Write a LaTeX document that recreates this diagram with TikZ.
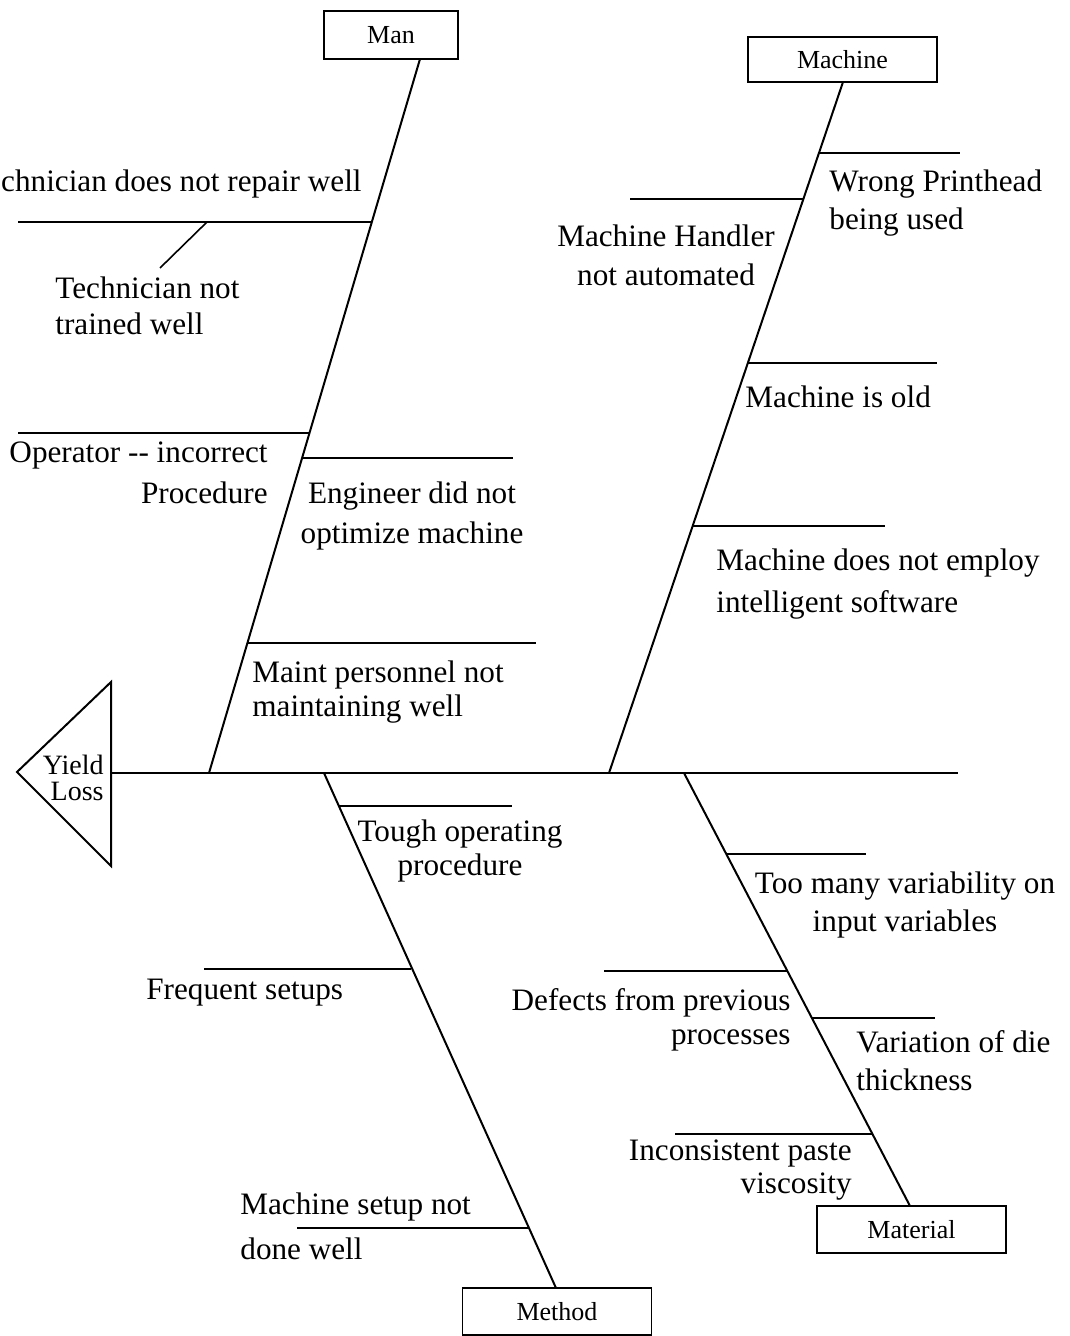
\documentclass[tikz,border=0pt]{standalone}
\usepackage{fontspec}
\setmainfont{Liberation Serif}
\usetikzlibrary{positioning}

\begin{document}
\begin{tikzpicture}[x=0.5pt,y=-0.5pt,
  bone/.style={line width=1pt},
  twig/.style={line width=0.8pt},
  cause/.style={font=\fontsize{15.6}{#1}\selectfont, inner sep=0pt},
  cause/.default=19pt,
  cat/.style={draw, line width=0.9pt, inner sep=0pt, minimum width=94.5pt, minimum height=23.5pt, font=\fontsize{13}{15}\selectfont}]
\useasboundingbox (0,0) rectangle (1069,1336);

% head of the fish
\coordinate (tip) at (17,772);
\coordinate (htop) at (111,682);
\coordinate (hbot) at (111,866);
\draw[bone] (tip) -- (htop) -- (hbot) -- cycle;
\node[inner sep=0pt, font=\fontsize{14}{13}\selectfont, align=right, anchor=base east] (yield) at (104,800) {Yield\\Loss};

% spine
\coordinate (spine0) at (111,773);
\coordinate (spine1) at (958,773);
\draw[bone] (spine0) -- (spine1);

% category boxes
\node[cat, minimum width=67pt, minimum height=24pt] (man) at (391,35) {Man};
\node[cat, minimum height=22.5pt] (machine) at (842.5,59.5) {Machine};
\node[cat] (method) at (557,1311.5) {Method};
\node[cat] (material) at (911.5,1229.5) {Material};

% main bones, box to spine
\coordinate (manT) at (420,59);   \coordinate (manF) at (209,773);
\coordinate (macT) at (843,82);   \coordinate (macF) at (609,773);
\coordinate (metT) at (556,1288); \coordinate (metF) at (324,773);
\coordinate (matT) at (910,1206); \coordinate (matF) at (684,773);
\draw[bone] (manT) -- (manF);
\draw[bone] (macT) -- (macF);
\draw[bone] (metT) -- (metF);
\draw[bone] (matT) -- (matF);

% side bones: y / x on the bone / free end
\foreach \y/\xa/\xb [count=\i] in {222/372/18, 433/309/18, 458/302/513, 643/247/536} {
  \coordinate (man\i a) at (\xa,\y); \coordinate (man\i b) at (\xb,\y);
  \draw[twig] (man\i a) -- (man\i b);
}
\foreach \y/\xa/\xb [count=\i] in {153/819/960, 199/803/630, 363/748/937, 526/693/885} {
  \coordinate (mac\i a) at (\xa,\y); \coordinate (mac\i b) at (\xb,\y);
  \draw[twig] (mac\i a) -- (mac\i b);
}
\foreach \y/\xa/\xb [count=\i] in {806/338/512, 969/411/204, 1228/528/297} {
  \coordinate (met\i a) at (\xa,\y); \coordinate (met\i b) at (\xb,\y);
  \draw[twig] (met\i a) -- (met\i b);
}
\foreach \y/\xa/\xb [count=\i] in {854/726/866, 971/787/604, 1018/812/935, 1134/873/675} {
  \coordinate (mat\i a) at (\xa,\y); \coordinate (mat\i b) at (\xb,\y);
  \draw[twig] (mat\i a) -- (mat\i b);
}
\coordinate (sub1a) at (207,222); \coordinate (sub1b) at (160,268);
\draw[twig] (sub1a) -- (sub1b);

% causes, Man (anchor = baseline of the last line)
\node[cause, anchor=base east] (c1) at (362,192) {chnician does not repair well};
\node[cause=18pt, anchor=base west, align=left] (c2) at (55,335) {Technician not\\trained well};
\node[cause=20.5pt, anchor=base east, align=right] (c3) at (268,503) {Operator -{}- incorrect\\Procedure};
\node[cause=20pt, anchor=base, align=center] (c4) at (412,543) {Engineer did not\\optimize machine};
\node[cause=17pt, anchor=base west, align=left] (c5) at (252,716) {Maint personnel not\\maintaining well};
% causes, Machine
\node[cause, anchor=base west, align=left] (c6) at (829,230) {Wrong Printhead\\being used};
\node[cause=19.5pt, anchor=base, align=center] (c7) at (666,286) {Machine Handler\\not automated};
\node[cause, anchor=base west] (c8) at (745,408) {Machine is old};
\node[cause=21pt, anchor=base west, align=left] (c9) at (716,612) {Machine does not employ\\intelligent software};
% causes, Method
\node[cause=17pt, anchor=base, align=center] (c10) at (460,875) {Tough operating\\procedure};
\node[cause, anchor=base west] (c11) at (146,999) {Frequent setups};
\node[cause=22.5pt, anchor=base west, align=left] (c12) at (240,1259) {Machine setup not\\done well};
% causes, Material
\node[cause, anchor=base, align=center] (c13) at (905,931) {Too many variability on\\input variables};
\node[cause=17pt, anchor=base east, align=right] (c14) at (791,1044) {Defects from previous\\processes};
\node[cause, anchor=base west, align=left] (c15) at (856,1090) {Variation of die\\thickness};
\node[cause=16.5pt, anchor=base east, align=right] (c16) at (852,1193) {Inconsistent paste\\viscosity};
\end{tikzpicture}
\end{document}
